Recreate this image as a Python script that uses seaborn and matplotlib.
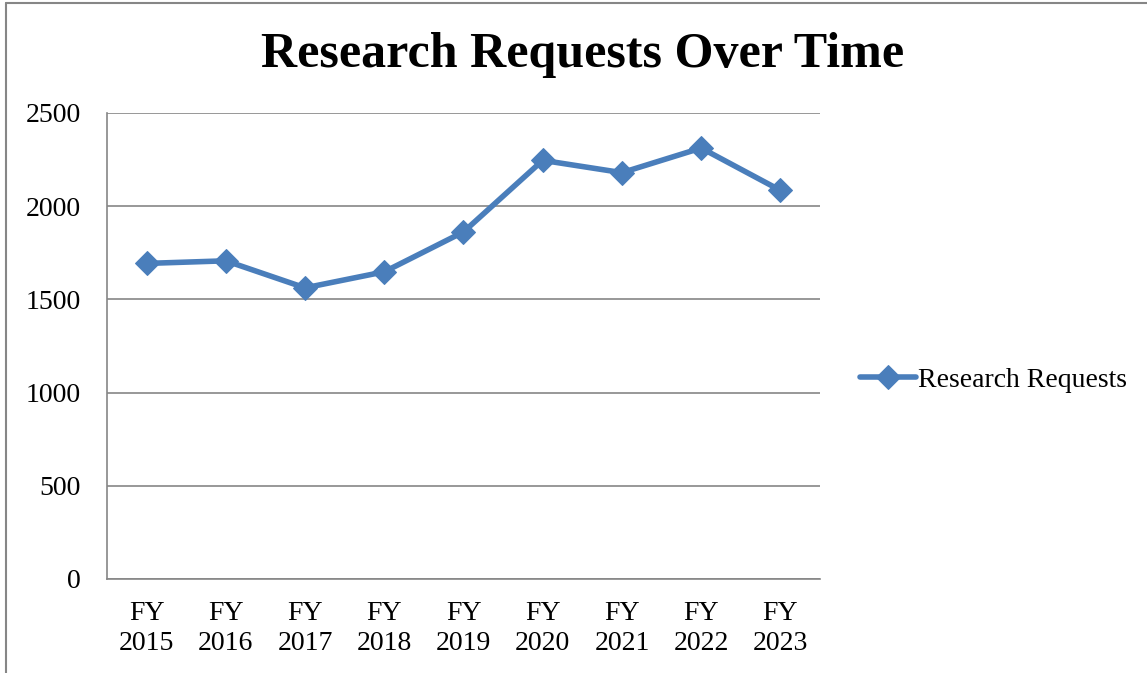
import matplotlib
matplotlib.use("Agg")
import matplotlib.pyplot as plt
import seaborn as sns
import pandas as pd
from matplotlib.lines import Line2D

years = ["FY\n2015", "FY\n2016", "FY\n2017", "FY\n2018", "FY\n2019",
         "FY\n2020", "FY\n2021", "FY\n2022", "FY\n2023"]
requests = [1693, 1707, 1562, 1648, 1862, 2246, 2180, 2312, 2085]
y_ticks = [0, 500, 1000, 1500, 2000, 2500]

sns.set_style("white")
plt.rcParams['font.family'] = ['Liberation Serif', 'DejaVu Serif']
plt.rcParams['text.color'] = 'black'
plt.rcParams['xtick.labelcolor'] = 'black'
plt.rcParams['ytick.labelcolor'] = 'black'

df = pd.DataFrame({"pos": range(len(years)), "value": requests})

fig = plt.figure(figsize=(11.47, 6.73), dpi=100)
ax = fig.add_axes([107 / 1147, 1 - 579 / 673, (820 - 107) / 1147, (579 - 113) / 673])

grid_col = "#868686"
line_col = "#4a7ebb"

sns.lineplot(data=df, x="pos", y="value", ax=ax, color=line_col,
             linewidth=4, marker="D", markersize=12.5, markeredgecolor=line_col,
             label="Research Requests")

ax.set_xlim(-0.5, len(years) - 0.5)
ax.set_ylim(0, 2500)
ax.set_yticks(y_ticks)
ax.set_yticklabels([str(t) for t in y_ticks], fontsize=20)
ax.yaxis.grid(True, color=grid_col, linewidth=1.2)
ax.set_axisbelow(True)

# category labels centered, tick marks on the boundaries
ax.set_xticks([i - 0.5 for i in range(len(years) + 1)])
ax.set_xticklabels([])
ax.set_xticks(range(len(years)), minor=True)
ax.set_xticklabels(years, minor=True, fontsize=20, linespacing=1.25)
ax.tick_params(axis="x", which="minor", length=0, pad=16)
ax.tick_params(axis="x", which="major", length=6, color=grid_col, width=1.2, direction="out")
ax.tick_params(axis="y", length=6, color=grid_col, width=1.2, direction="out", pad=13)
ax.set_xlabel("")
ax.set_ylabel("")

for side in ["top", "right"]:
    ax.spines[side].set_visible(False)
for side in ["left", "bottom"]:
    ax.spines[side].set_color(grid_col)
    ax.spines[side].set_linewidth(1.2)

fig.text(0.508, 1 - 55 / 673, "Research Requests Over Time", ha="center", va="center",
         fontsize=36, fontweight="bold")

ax.legend(loc="center left", bbox_to_anchor=(860 / 1147, 1 - 380 / 673),
          bbox_transform=fig.transFigure, frameon=False, fontsize=20,
          handlelength=2.0, handletextpad=0.1, borderpad=0, borderaxespad=0)

# outer chart frame (top and left edges visible)
fig.add_artist(Line2D([6 / 1147, 1], [1 - 3 / 673, 1 - 3 / 673], transform=fig.transFigure,
                      color=grid_col, linewidth=1.5))
fig.add_artist(Line2D([6 / 1147, 6 / 1147], [0, 1 - 3 / 673], transform=fig.transFigure,
                      color=grid_col, linewidth=1.5))

fig.savefig("out.png", dpi=100)
